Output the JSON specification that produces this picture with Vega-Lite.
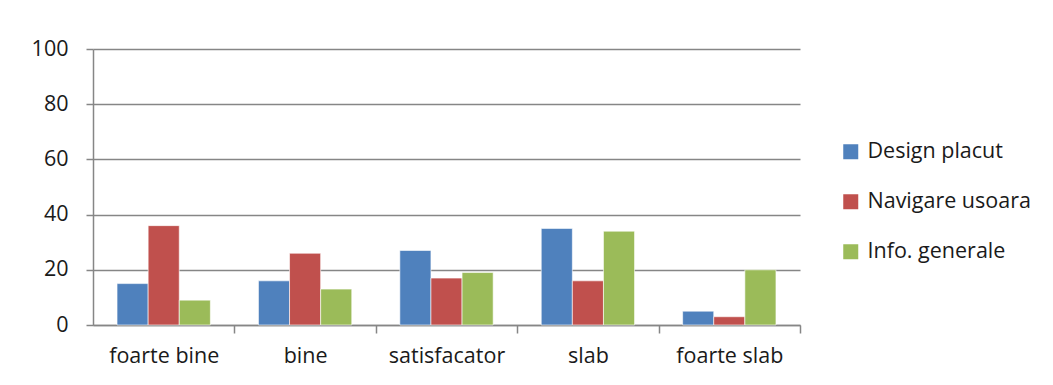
{
  "$schema": "https://vega.github.io/schema/vega-lite/v6.json",
  "autosize": "none",
  "width": 707,
  "height": 276,
  "padding": {"left": 93, "top": 49, "right": 253, "bottom": 60},
  "background": "white",
  "config": {
    "view": {"stroke": null},
    "font": "Open Sans",
    "axis": {"labelFont": "Open Sans", "labelColor": "#1a1a1a", "domainColor": "#868686", "tickColor": "#868686", "gridColor": "#868686"}
  },
  "data": {
    "values": [
      {"cat": "foarte bine", "series": "Design placut", "value": 15},
      {"cat": "foarte bine", "series": "Navigare usoara", "value": 36},
      {"cat": "foarte bine", "series": "Info. generale", "value": 9},
      {"cat": "bine", "series": "Design placut", "value": 16},
      {"cat": "bine", "series": "Navigare usoara", "value": 26},
      {"cat": "bine", "series": "Info. generale", "value": 13},
      {"cat": "satisfacator", "series": "Design placut", "value": 27},
      {"cat": "satisfacator", "series": "Navigare usoara", "value": 17},
      {"cat": "satisfacator", "series": "Info. generale", "value": 19},
      {"cat": "slab", "series": "Design placut", "value": 35},
      {"cat": "slab", "series": "Navigare usoara", "value": 16},
      {"cat": "slab", "series": "Info. generale", "value": 34},
      {"cat": "foarte slab", "series": "Design placut", "value": 5},
      {"cat": "foarte slab", "series": "Navigare usoara", "value": 3},
      {"cat": "foarte slab", "series": "Info. generale", "value": 20}
    ]
  },
  "mark": {"type": "bar", "stroke": "white", "strokeWidth": 1, "strokeOpacity": 0.6},
  "encoding": {
    "x": {
      "field": "cat",
      "type": "nominal",
      "sort": ["foarte bine", "bine", "satisfacator", "slab", "foarte slab"],
      "scale": {"paddingInner": 0.34, "paddingOuter": 0.17},
      "axis": {
        "title": null,
        "labelAngle": 0,
        "labelFontSize": 21.5,
        "labelPadding": 12,
        "ticks": true,
        "tickOffset": 70.7,
        "labelOffset": -70.7,
        "tickSize": 8,
        "tickWidth": 1.5,
        "domainWidth": 1.5,
        "grid": false
      }
    },
    "xOffset": {
      "field": "series",
      "type": "nominal",
      "sort": ["Design placut", "Navigare usoara", "Info. generale"],
      "scale": {"paddingInner": 0, "paddingOuter": 0}
    },
    "y": {
      "field": "value",
      "type": "quantitative",
      "scale": {"domain": [0, 100], "nice": false},
      "axis": {
        "title": null,
        "values": [0, 20, 40, 60, 80, 100],
        "labelFontSize": 21.5,
        "labelPadding": 18,
        "tickSize": 7,
        "tickWidth": 1.5,
        "grid": true,
        "gridWidth": 1.5,
        "domainWidth": 1.5
      }
    },
    "color": {
      "field": "series",
      "type": "nominal",
      "sort": ["Design placut", "Navigare usoara", "Info. generale"],
      "scale": {"domain": ["Design placut", "Navigare usoara", "Info. generale"], "range": ["#4F81BD", "#C0504D", "#9BBB59"]},
      "legend": {
        "title": null,
        "orient": "none",
        "legendX": 747,
        "legendY": 92,
        "symbolType": "square",
        "symbolSize": 225,
        "symbolStrokeWidth": 0,
        "labelFont": "Open Sans",
        "labelFontSize": 21.5,
        "labelColor": "#1a1a1a",
        "labelOffset": 6,
        "labelLimit": 300,
        "rowPadding": 27
      }
    }
  }
}
